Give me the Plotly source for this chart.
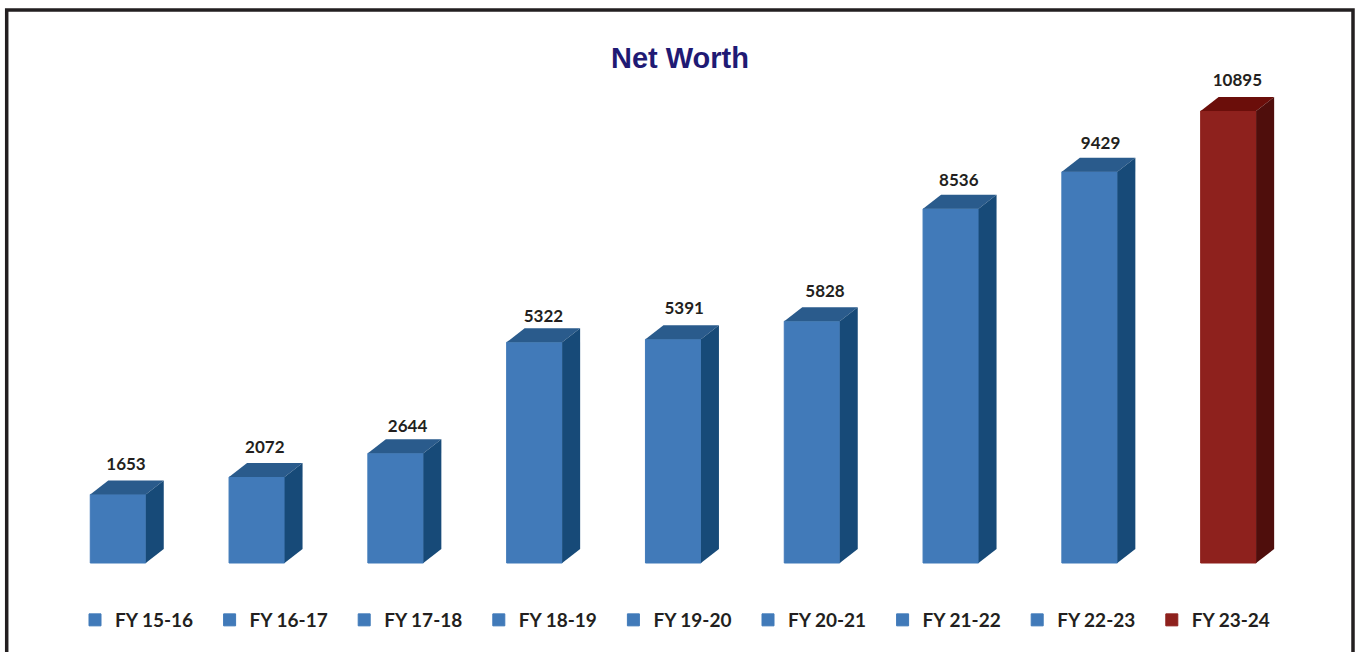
import plotly.graph_objects as go

categories = ["FY 15-16", "FY 16-17", "FY 17-18", "FY 18-19", "FY 19-20",
              "FY 20-21", "FY 21-22", "FY 22-23", "FY 23-24"]
net_worth = [1653, 2072, 2644, 5322, 5391, 5828, 8536, 9429, 10895]
title_text = "Net Worth"

W, H = 1356, 652
PX_PER_CAT = 138.8
PX_PER_VAL = 452 / 10895
X0_PX, BASE_PX = 118.0, 563.0
BAR_W = 55.5 / PX_PER_CAT
DX = 18 / PX_PER_CAT
DY = 14 / PX_PER_VAL
label_dx_px = [8, 8, 12, 9, 11, 13, 8, 11, 9]
label_dy_px = [29, 28, 26, 24, 30, 28, 27, 27, 29]

BLUE = dict(front="#417ab9", top="#2a5b8c", side="#174a78")
RED = dict(front="#8e211d", top="#6b0e0a", side="#4f0e0c")
FONT = "Lato, 'Noto Sans', sans-serif"
INK = "#231f20"

fig = go.Figure()
for i, (cat, val) in enumerate(zip(categories, net_worth)):
    c = RED if i == len(categories) - 1 else BLUE
    l, r = i - BAR_W / 2, i + BAR_W / 2
    fig.add_trace(go.Scatter(
        x=[l, l + DX, r + DX, r, l], y=[val, val + DY, val + DY, val, val],
        mode="lines", fill="toself", fillcolor=c["top"], line=dict(width=0),
        showlegend=False, hoverinfo="skip"))
    fig.add_trace(go.Scatter(
        x=[r, r + DX, r + DX, r, r], y=[val, val + DY, DY, 0, val],
        mode="lines", fill="toself", fillcolor=c["side"], line=dict(width=0),
        showlegend=False, hoverinfo="skip"))
    fig.add_trace(go.Bar(
        x=[i], y=[val], width=BAR_W, name=cat,
        marker=dict(color=c["front"], line=dict(width=1, color=c["front"])),
        hovertemplate=cat + ": %{y}<extra></extra>"))

fig.add_trace(go.Scatter(
    x=[i + d / PX_PER_CAT for i, d in enumerate(label_dx_px)],
    y=[v + d / PX_PER_VAL for v, d in zip(net_worth, label_dy_px)],
    text=[str(v) for v in net_worth], mode="text", textposition="middle center",
    textfont=dict(family=FONT, size=17, color=INK, weight=700),
    showlegend=False, hoverinfo="skip", cliponaxis=False))

frame = dict(type="path", xref="paper", yref="paper",
             path=f"M {6.7/W} 0 L {6.7/W} {1-10/H} L {1353/W} {1-10/H} L {1353/W} 0",
             line=dict(color=INK, width=3.5))

fig.update_layout(
    width=W, height=H, margin=dict(l=0, r=0, t=0, b=0),
    paper_bgcolor="white", plot_bgcolor="white", barmode="overlay",
    title=dict(text=title_text, x=680 / W, xanchor="center", y=1 - 58 / H, yanchor="middle",
               font=dict(family="'Liberation Sans', Arial, sans-serif", size=29, color="#1f1a74", weight=700)),
    xaxis=dict(range=[-X0_PX / PX_PER_CAT, (W - X0_PX) / PX_PER_CAT], visible=False),
    yaxis=dict(range=[-(H - BASE_PX) / PX_PER_VAL, BASE_PX / PX_PER_VAL], visible=False),
    legend=dict(orientation="h", x=75 / W, xanchor="left", y=1 - 620 / H, yanchor="middle",
                entrywidth=89.6, entrywidthmode="pixels", traceorder="normal",
                font=dict(family=FONT, size=19, color=INK, weight=700),
                bgcolor="rgba(0,0,0,0)"),
    shapes=[frame],
)
fig.write_html("out.html", config=dict(displayModeBar=False),
               post_script="document.body.style.margin='0';document.body.style.overflow='hidden';")
